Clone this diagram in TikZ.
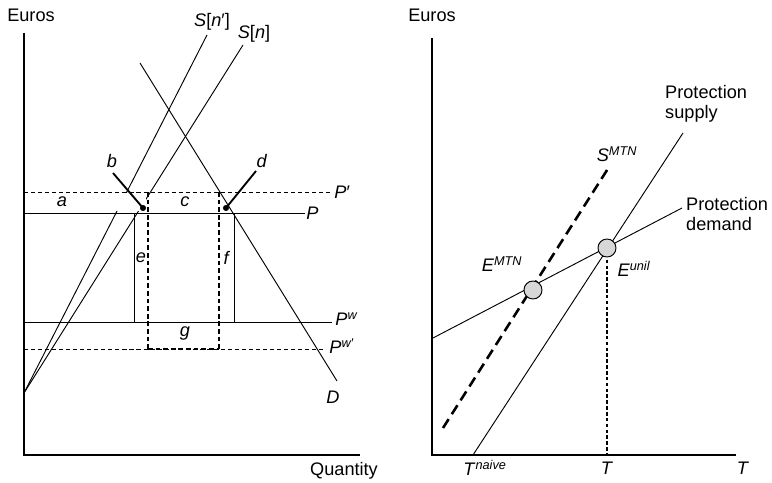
\documentclass[tikz,border=0pt]{standalone}
\usepackage{fontspec}
\setmainfont{Liberation Sans}
\usetikzlibrary{positioning}
\definecolor{eqgray}{RGB}{215, 215, 215}

\begin{document}
\begin{tikzpicture}[x=0.03cm, y=-0.03cm,
    font=\fontsize{15.5}{17.5}\selectfont,
    axisline/.style={line width=1.8pt},
    curve/.style={line width=0.8pt},
    pline/.style={line width=0.8pt, dash pattern=on 3.5pt off 2.5pt},
    boxdash/.style={line width=1.3pt, dash pattern=on 4pt off 2.5pt},
    pointer/.style={line width=1.6pt},
    eqdot/.style={circle, draw, line width=0.8pt, fill=eqgray, minimum size=0.54cm, inner sep=0pt},
    lbl/.style={inner sep=1pt}]
  \useasboundingbox (0,0) rectangle (772,483);

  % ---- left panel: protection and the firm count ----
  \coordinate (O1) at (24,455);
  \coordinate (ytop1) at (24,33);
  \coordinate (xend1) at (360,455);
  \node (euros1) at (31,15) {Euros};
  \node (qty) at (344,471) {Quantity};

  % demand and supply
  \coordinate (D0) at (140,63);   \coordinate (D1) at (337,381);
  \coordinate (S0) at (24,393);
  \coordinate (Snp) at (207,35);  \coordinate (Sn) at (243,45);
  \draw[curve] (S0) -- (Snp);
  \draw[curve] (S0) -- (Sn);
  % supply lines break inside the band between P' and P
  \fill[white] (25,193.5) rectangle (146,211.5);
  \draw[curve] (D0) -- (D1);
  \node (lD) at (333,397) {\textit{D}};
  \node (lSnp) at (212,22) {\textit{S}[\textit{n}′]};
  \node (lSn) at (254,34) {\textit{S}[\textit{n}]};

  % price lines
  \coordinate (Pp0) at (24,192);  \coordinate (Pp1) at (333,192);
  \coordinate (P0) at (24,213);   \coordinate (P1) at (305,213);
  \coordinate (Pw0) at (24,322);  \coordinate (Pw1) at (332,322);
  \coordinate (Pwp0) at (24,349); \coordinate (Pwp1) at (325,349);
  \draw[pline] (Pp0) -- (Pp1);
  \draw[curve] (P0) -- (P1);
  \draw[curve] (Pw0) -- (Pw1);
  \draw[pline] (Pwp0) -- (Pwp1);
  \node[lbl, anchor=west] (lPp) at (Pp1) {\textit{P}′};
  \node[lbl, anchor=west] (lP) at (P1) {\textit{P}};
  \node[lbl, anchor=west] (lPw) at (334,319) {\textit{P}\textsuperscript{\textit{w}}};
  \node[lbl, anchor=west] (lPwp) at (328,346) {\textit{P}\textsuperscript{\textit{w}′}};

  % boxes
  \draw[curve] (134,213) -- (134,322);
  \draw[curve] (234,213) -- (234,322);
  \draw[boxdash] (148,192) -- (148,349);
  \draw[boxdash] (219,192) -- (219,349);
  \draw[boxdash] (148,349) -- (219,349);

  \node (la) at (62,202) {\textit{a}};
  \node (lc) at (185,202) {\textit{c}};
  \node (le) at (141,258) {\textit{e}};
  \node (lf) at (227,258) {\textit{f}};
  \node (lg) at (185,334) {\textit{g}};

  % pointers b and d
  \coordinate (bdot) at (143,208);
  \coordinate (ddot) at (226,208);
  \node (lb) at (112,161) {\textit{b}};
  \node (ld) at (262,161) {\textit{d}};
  \draw[pointer] (113,173) -- (bdot);
  \draw[pointer] (256,171) -- (ddot);
  \fill (bdot) circle (2.6pt);
  \fill (ddot) circle (2.6pt);

  \draw[axisline] (ytop1) -- (O1) -- (xend1);

  % ---- right panel: protection supply and demand ----
  \coordinate (O2) at (432,455);
  \coordinate (ytop2) at (432,38);
  \coordinate (xend2) at (736,455);
  \node (euros2) at (432,15) {Euros};

  \coordinate (sup0) at (473,455);  \coordinate (sup1) at (683,133);
  \coordinate (dem0) at (433,338);  \coordinate (dem1) at (682,208);
  \coordinate (mtn0) at (443,428);  \coordinate (mtn1) at (609,167);
  \draw[curve] (sup0) -- (sup1);
  \draw[curve] (dem0) -- (dem1);
  \draw[line width=2.2pt, dash pattern=on 9pt off 5pt] (mtn0) -- (mtn1);
  \draw[line width=1.1pt, dash pattern=on 3pt off 2pt] (607,248) -- (607,455);

  \node[eqdot] (Emtn) at (533,290) {};
  \node[eqdot] (Eunil) at (607,248) {};
  \node (lEmtn) at (502,264) {\textit{E}\textsuperscript{\textit{MTN}}};
  \node (lEunil) at (634,269) {\textit{E}\textsuperscript{\textit{unil}}};
  \node (lSmtn) at (617,154) {\textit{S}\textsuperscript{\textit{MTN}}};

  \node[anchor=west, align=left, inner sep=0pt] (lsup) at (665,104) {Protection\\supply};
  \node[anchor=west, align=left, inner sep=0pt] (ldem) at (686,214) {Protection\\demand};

  \node (lTn) at (485,468) {\textit{T}\textsuperscript{\textit{naive}}};
  \node (lT) at (607,468) {\textit{T}};
  \node (lTax) at (743,468) {\textit{T}};

  \draw[axisline] (ytop2) -- (O2) -- (xend2);
\end{tikzpicture}
\end{document}
